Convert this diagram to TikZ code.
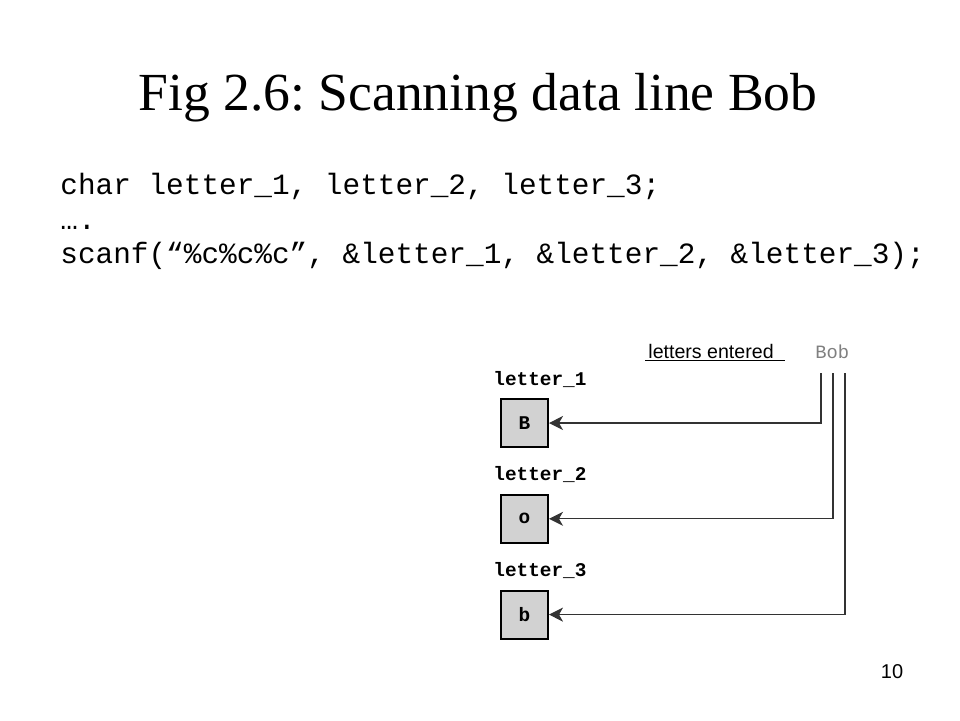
\documentclass[tikz,border=0pt]{standalone}
\usepackage{fontspec}
\setmainfont{Liberation Serif}
\setsansfont{Liberation Sans}
\setmonofont{Liberation Mono}
\usepackage{xcolor}
\usetikzlibrary{arrows.meta, positioning}
\frenchspacing
\tikzstyle{cellbox} = [rectangle, minimum width=23.5pt, minimum height=24pt, inner sep=0pt, text centered, draw=black, line width=1pt, fill=gray!35, font=\fontsize{9.7}{11}\ttfamily\bfseries]
\tikzstyle{varname} = [anchor=base west, inner sep=0pt, font=\fontsize{9.7}{11}\ttfamily\bfseries]
\tikzstyle{codeline} = [anchor=base west, inner sep=0pt, font=\fontsize{14.7}{17}\ttfamily]
\tikzstyle{arrow} = [line width=0.6pt, draw=black!80, -{Stealth[length=7pt, width=7pt, inset=2pt]}]

\begin{document}
\begin{tikzpicture}[x=0.5pt, y=-0.5pt, node distance=47.9pt]
    \useasboundingbox (0,0) rectangle (960,720);
    \node (title) [anchor=base, inner sep=0pt, font=\fontsize{26.8}{30}\selectfont] at (478,110) {Fig 2.6: Scanning data line Bob};
    \node (code1) [codeline] at (60,194) {char letter\_1, letter\_2, letter\_3;};
    \node (code2) [codeline] at (60,229) {….};
    \node (code3) [codeline] at (60,263) {scanf(“\%c\%c\%c”, \&letter\_1, \&letter\_2, \&letter\_3);};

    \node (entered) [anchor=base west, inner sep=0pt, font=\fontsize{9.8}{11}\sffamily] at (648,358) {letters entered};
    \draw [line width=0.5pt] ([shift={(-3,2)}]entered.base west) -- ++(140,0);
    \node (bob) [anchor=base west, inner sep=0pt, text=black!50, font=\fontsize{9.4}{11}\ttfamily] at (815,358) {Bob};

    \node (box1) [cellbox] at (524.5,423) {B};
    \node (box2) [cellbox, below of=box1] {o};
    \node (box3) [cellbox, below of=box2] {b};
    \node (lab1) [varname] at (493,385) {letter\_1};
    \node (lab2) [varname] at (493,480) {letter\_2};
    \node (lab3) [varname] at (493,576) {letter\_3};

    \coordinate (in1) at (821,373);
    \coordinate (in2) at (833,373);
    \coordinate (in3) at (845,373);
    \draw [arrow] (in1) |- (box1.east);
    \draw [arrow] (in2) |- (box2.east);
    \draw [arrow] (in3) |- (box3.east);

    \node (page) [anchor=base, inner sep=0pt, font=\fontsize{10}{12}\sffamily] at (892,678) {10};
\end{tikzpicture}
\end{document}
